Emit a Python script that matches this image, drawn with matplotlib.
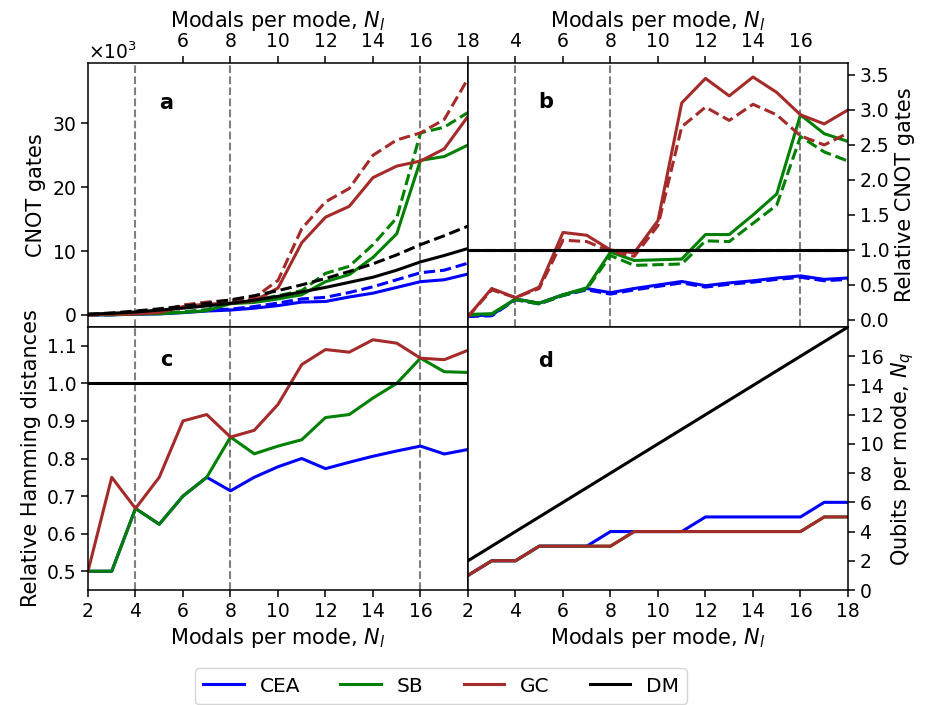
import matplotlib
matplotlib.use('Agg')
import matplotlib.pyplot as plt
from matplotlib.lines import Line2D

# x axis: modals per mode
modals = list(range(2, 19))

# panel a: CNOT gates, in thousands (solid / dashed variants)
cea_cnot = [0.005, 0.01, 0.1, 0.15, 0.35, 0.6, 0.75, 1.05, 1.45, 2.0, 2.1, 2.8, 3.4, 4.3, 5.2, 5.5, 6.4]
cea_cnot_d = [0.005, 0.02, 0.17, 0.22, 0.45, 0.78, 0.9, 1.3, 1.85, 2.5, 2.75, 3.5, 4.4, 5.5, 6.6, 7.0, 8.1]
sb_cnot = [0.008, 0.02, 0.13, 0.18, 0.38, 0.65, 1.75, 1.95, 2.5, 3.15, 5.2, 6.3, 9.0, 12.7, 24.2, 24.8, 26.6]
sb_cnot_d = [0.007, 0.02, 0.18, 0.22, 0.47, 0.8, 2.15, 2.35, 3.0, 3.8, 6.5, 7.6, 11.0, 15.2, 28.5, 29.4, 31.7]
gc_cnot = [0.005, 0.11, 0.15, 0.36, 1.3, 1.7, 1.8, 2.2, 4.2, 11.3, 15.3, 17.0, 21.5, 23.3, 24.1, 26.0, 31.1]
gc_cnot_d = [0.005, 0.13, 0.19, 0.43, 1.55, 2.0, 2.3, 2.7, 5.4, 13.5, 17.7, 19.8, 25.0, 27.4, 28.5, 30.6, 37.0]
dm_cnot = [0.1, 0.25, 0.45, 0.75, 1.05, 1.4, 1.8, 2.3, 2.9, 3.6, 4.3, 5.1, 5.9, 7.0, 8.3, 9.3, 10.4]
dm_cnot_d = [0.1, 0.3, 0.6, 0.95, 1.35, 1.8, 2.35, 3.0, 3.8, 4.7, 5.7, 6.8, 8.0, 9.4, 11.0, 12.4, 13.9]

# panel b: CNOT gates relative to DM
cea_rel = [0.06, 0.07, 0.3, 0.24, 0.36, 0.45, 0.39, 0.45, 0.5, 0.55, 0.49, 0.53, 0.56, 0.6, 0.63, 0.58, 0.6]
cea_rel_d = [0.05, 0.06, 0.29, 0.23, 0.35, 0.43, 0.37, 0.43, 0.48, 0.53, 0.47, 0.51, 0.54, 0.58, 0.61, 0.56, 0.58]
sb_rel = [0.08, 0.09, 0.3, 0.24, 0.36, 0.46, 0.97, 0.85, 0.86, 0.87, 1.22, 1.22, 1.5, 1.8, 2.93, 2.66, 2.55]
sb_rel_d = [0.07, 0.08, 0.29, 0.23, 0.35, 0.44, 0.92, 0.78, 0.79, 0.8, 1.13, 1.12, 1.38, 1.64, 2.62, 2.4, 2.27]
gc_rel = [0.05, 0.45, 0.32, 0.47, 1.25, 1.21, 1.0, 0.96, 1.42, 3.1, 3.45, 3.2, 3.47, 3.25, 2.93, 2.8, 3.0]
gc_rel_d = [0.05, 0.43, 0.32, 0.45, 1.14, 1.12, 0.98, 0.91, 1.35, 2.76, 3.04, 2.85, 3.08, 2.93, 2.63, 2.5, 2.67]
dm_rel = [1.0] * 17

# panel c: relative Hamming distances
cea_ham = [0.5, 0.5, 0.667, 0.625, 0.7, 0.75, 0.714, 0.75, 0.778, 0.8, 0.773, 0.79, 0.806, 0.82, 0.833, 0.812, 0.824]
sb_ham = [0.5, 0.5, 0.667, 0.625, 0.7, 0.75, 0.857, 0.8125, 0.833, 0.85, 0.909, 0.917, 0.961, 1.0, 1.067, 1.031, 1.029]
gc_ham = [0.5, 0.75, 0.667, 0.75, 0.9, 0.917, 0.857, 0.875, 0.944, 1.05, 1.09, 1.083, 1.116, 1.107, 1.067, 1.063, 1.088]
dm_ham = [1.0] * 17

# panel d: qubits per mode
cea_nq = [1, 2, 2, 3, 3, 3, 4, 4, 4, 4, 5, 5, 5, 5, 5, 6, 6]
sb_nq = [1, 2, 2, 3, 3, 3, 3, 4, 4, 4, 4, 4, 4, 4, 4, 5, 5]
gc_nq = [1, 2, 2, 3, 3, 3, 3, 4, 4, 4, 4, 4, 4, 4, 4, 5, 5]
dm_nq = list(range(2, 19))

names = ['CEA', 'SB', 'GC', 'DM']
colors = ['blue', 'green', 'brown', 'black']
marked_modals = [4, 8, 16]

lw = 2.2
tick_fs = 13.5
label_fs = 15
xlabel = 'Modals per mode, $N_l$'

fig = plt.figure(figsize=(9.27, 7.05), dpi=100)
ax_a = fig.add_axes([0.09493, 0.53617, 0.40992, 0.37447])
ax_b = fig.add_axes([0.50485, 0.53617, 0.40992, 0.37447])
ax_c = fig.add_axes([0.09493, 0.16312, 0.40992, 0.37305])
ax_d = fig.add_axes([0.50485, 0.16312, 0.40992, 0.37305])

for ax in [ax_a, ax_b, ax_c]:
    for m in marked_modals:
        ax.axvline(m, color='gray', lw=1.5, ls='--', zorder=1)

# a
solid_a = [cea_cnot, sb_cnot, gc_cnot, dm_cnot]
dashed_a = [cea_cnot_d, sb_cnot_d, gc_cnot_d, dm_cnot_d]
for s, d, c in zip(solid_a, dashed_a, colors):
    ax_a.plot(modals, [v * 1000 for v in s], color=c, lw=lw)
    ax_a.plot(modals, [v * 1000 for v in d], color=c, lw=lw, ls='--')
ax_a.set_xlim(2, 18)
ax_a.set_ylim(-1900, 39450)
ax_a.set_yticks([0, 10000, 20000, 30000])
ax_a.set_xticks(range(6, 19, 2))
ax_a.ticklabel_format(axis='y', style='sci', scilimits=(3, 3), useMathText=True)
ax_a.tick_params(bottom=False, labelbottom=False, top=True, labeltop=True)
ax_a.xaxis.set_label_position('top')
ax_a.set_xlabel(xlabel, fontsize=label_fs)
ax_a.set_ylabel('CNOT gates', fontsize=label_fs)
ax_a.yaxis.get_offset_text().set_fontsize(tick_fs)

# b
solid_b = [cea_rel, sb_rel, gc_rel, dm_rel]
dashed_b = [cea_rel_d, sb_rel_d, gc_rel_d, dm_rel]
for s, d, c in zip(solid_b, dashed_b, colors):
    ax_b.plot(modals, s, color=c, lw=lw)
    ax_b.plot(modals, d, color=c, lw=lw, ls='--')
ax_b.set_xlim(2, 18)
ax_b.set_ylim(-0.1, 3.67)
ax_b.set_yticks([0.0, 0.5, 1.0, 1.5, 2.0, 2.5, 3.0, 3.5])
ax_b.set_xticks(range(4, 17, 2))
ax_b.tick_params(bottom=False, labelbottom=False, top=True, labeltop=True,
                 left=False, labelleft=False, right=True, labelright=True)
ax_b.xaxis.set_label_position('top')
ax_b.yaxis.set_label_position('right')
ax_b.set_xlabel(xlabel, fontsize=label_fs)
ax_b.set_ylabel('Relative CNOT gates', fontsize=label_fs)

# c
for vals, c in zip([cea_ham, sb_ham, gc_ham, dm_ham], colors):
    ax_c.plot(modals, vals, color=c, lw=lw)
ax_c.set_xlim(2, 18)
ax_c.set_ylim(0.45, 1.15)
ax_c.set_yticks([0.5, 0.6, 0.7, 0.8, 0.9, 1.0, 1.1])
ax_c.set_xticks(range(2, 17, 2))
ax_c.set_xlabel(xlabel, fontsize=label_fs)
ax_c.set_ylabel('Relative Hamming distances', fontsize=label_fs)

# d
for vals, c in zip([cea_nq, sb_nq, gc_nq, dm_nq], colors):
    ax_d.plot(modals, vals, color=c, lw=lw)
ax_d.set_xlim(2, 18)
ax_d.set_ylim(0, 18)
ax_d.set_yticks(range(0, 17, 2))
ax_d.set_xticks(range(2, 19, 2))
ax_d.tick_params(left=False, labelleft=False, right=True, labelright=True)
ax_d.yaxis.set_label_position('right')
ax_d.set_xlabel(xlabel, fontsize=label_fs)
ax_d.set_ylabel('Qubits per mode, $N_q$', fontsize=label_fs)

for ax, lab, ypos in zip([ax_a, ax_b, ax_c, ax_d], 'abcd', [0.85, 0.853, 0.873, 0.872]):
    ax.tick_params(labelsize=tick_fs, length=4.8, width=1.1)
    for sp in ax.spines.values():
        sp.set_linewidth(1.1)
    ax.text(0.205, ypos, lab, transform=ax.transAxes, fontsize=label_fs,
            fontweight='bold', ha='center', va='center')

handles = [Line2D([], [], color=c, lw=lw) for c in colors]
fig.legend(handles, names, loc='lower center', bbox_to_anchor=(0.476, 0.002),
           ncol=4, fontsize=14.5, borderaxespad=0)

fig.savefig('out.png', dpi=100)
